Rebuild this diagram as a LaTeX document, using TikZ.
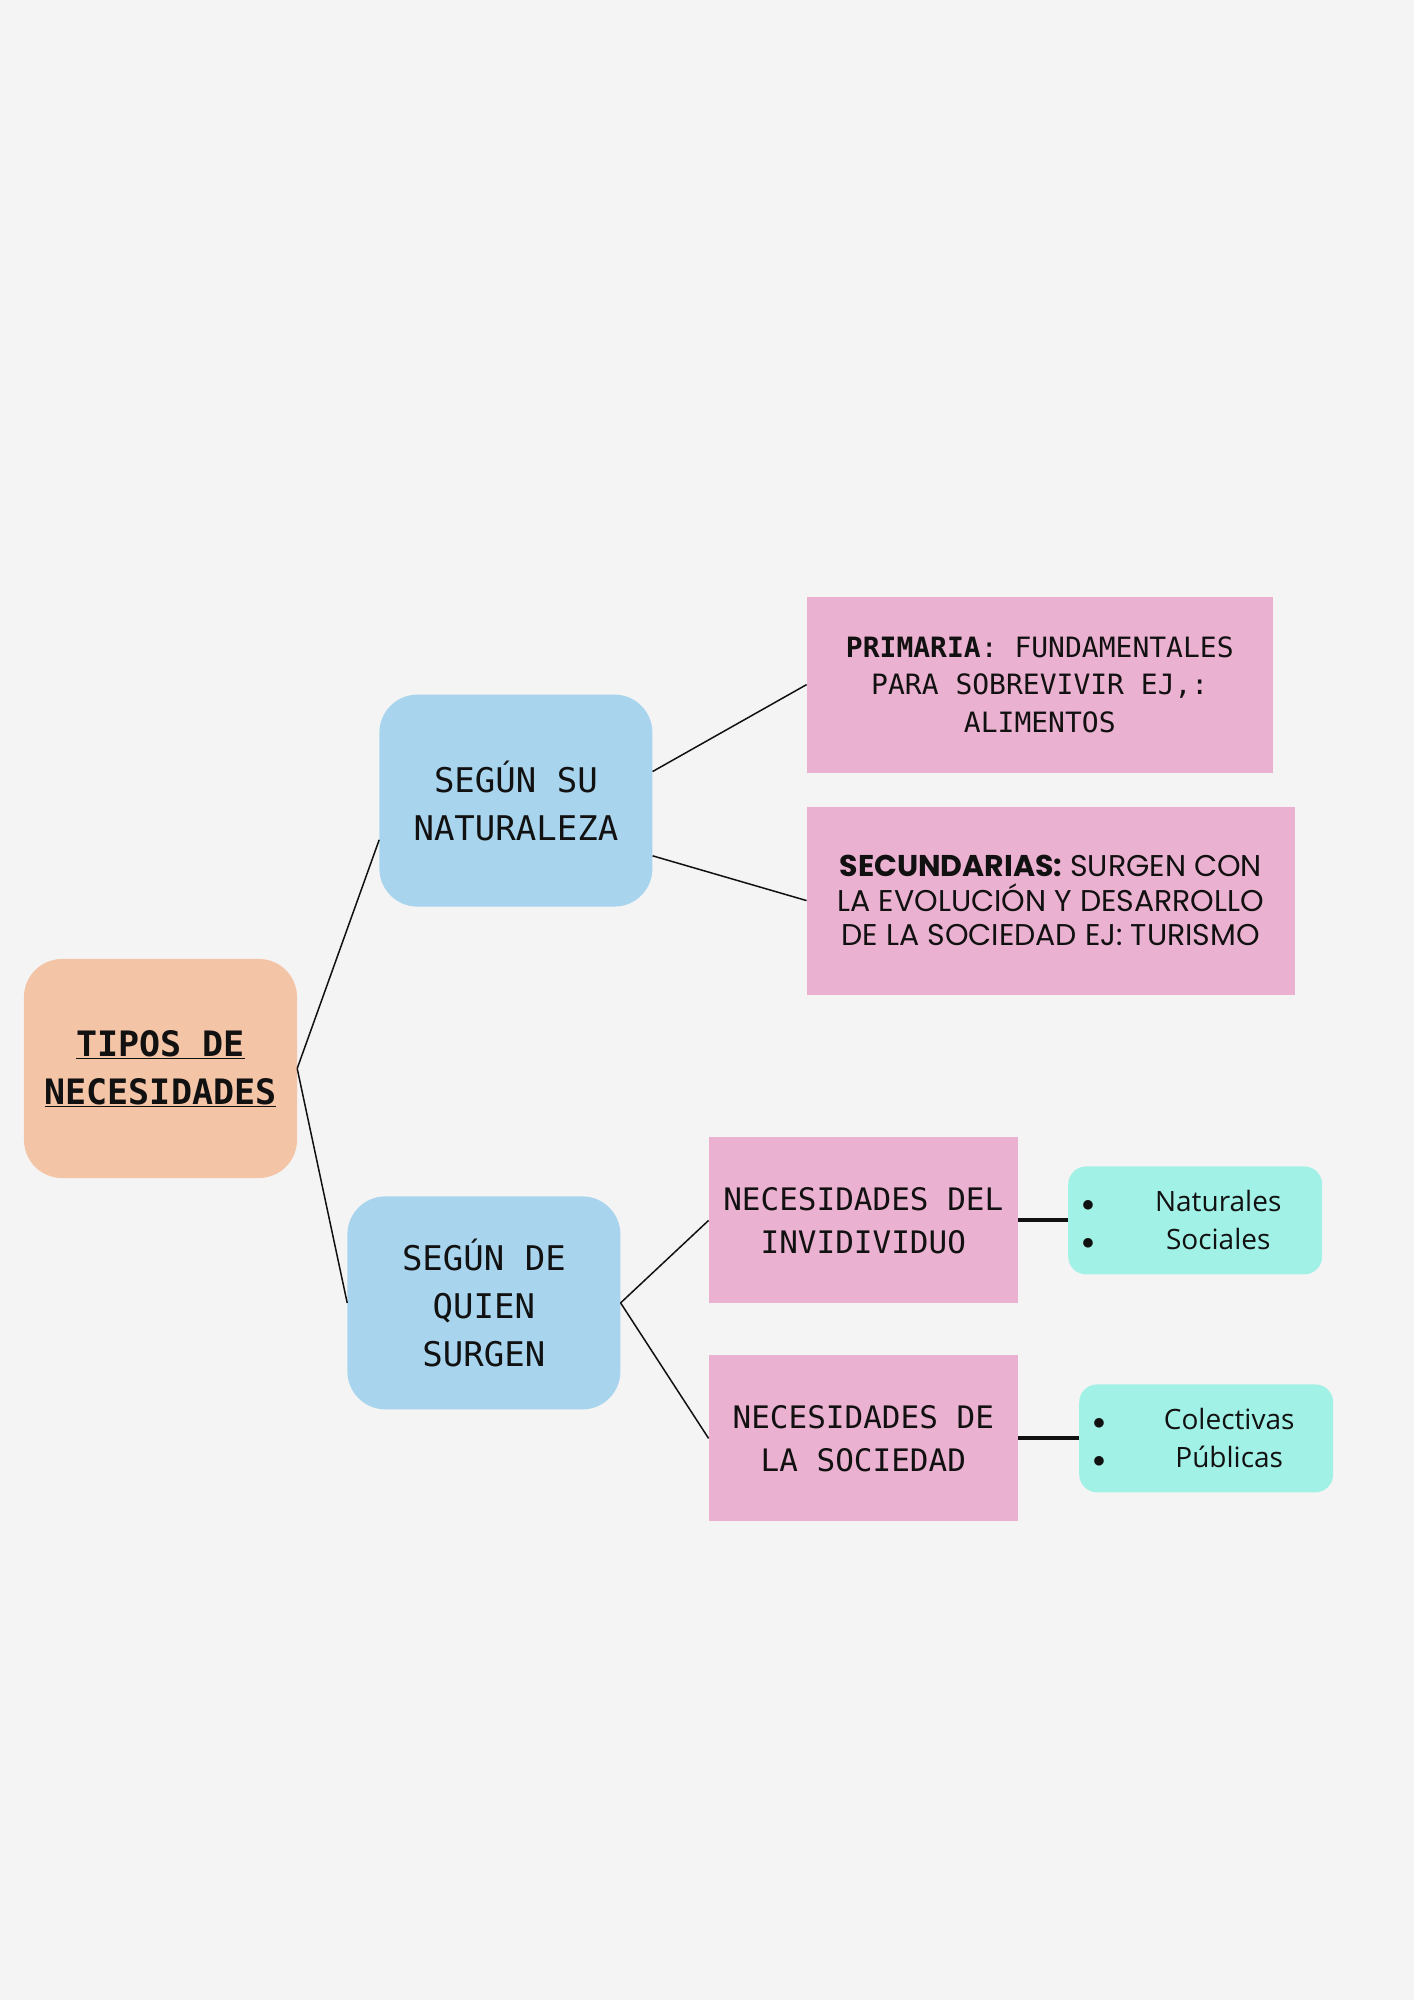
\documentclass[tikz,border=0pt]{standalone}
\usepackage{fontspec}
\setmainfont{Open Sans}
\setmonofont{DejaVu Sans Mono}
\newfontfamily\geofont{Poppins}
\usetikzlibrary{positioning}
\definecolor{paper}{HTML}{F4F4F4}
\definecolor{peach}{HTML}{F4C4A7}
\definecolor{sky}{HTML}{A8D4ED}
\definecolor{rose}{HTML}{EBB1D0}
\definecolor{mint}{HTML}{A2F1E7}
\definecolor{ink}{HTML}{111111}
\tikzset{
  rootbox/.style={fill=peach, rounded corners=38pt, minimum width=273pt,
                  minimum height=219pt, inner sep=0pt, align=center, text=ink,
                  font=\ttfamily\bfseries\fontsize{35}{48}\selectfont},
  catbox/.style={fill=sky, rounded corners=38pt, minimum width=273pt,
                 inner sep=0pt, align=center, text=ink,
                 font=\ttfamily\fontsize{34}{48}\selectfont},
  typebox/.style={fill=rose, inner sep=0pt, align=center, text=ink},
  listbox/.style={fill=mint, rounded corners=18pt, minimum width=254pt,
                  minimum height=108pt, inner sep=0pt, text width=254pt,
                  align=left, text=ink, font=\fontsize{28}{38}\selectfont},
  link/.style={draw=ink, line width=1.5pt},
  boldlink/.style={draw=ink, line width=4pt},
}
\newcommand{\bulitem}[1]{\makebox[40pt]{$\bullet$}\hspace{20pt}\makebox[180pt]{#1}}

\begin{document}
\begin{tikzpicture}
  \fill[paper] (-160.5pt,1068.5pt) rectangle (1253.5pt,-931.5pt);
  \node[rootbox] (tipos) {\underline{TIPOS DE}\\\underline{NECESIDADES}};
  \node[catbox, minimum height=212pt, above right=52pt and 82pt of tipos] (natur)
    {SEGÚN SU\\NATURALEZA};
  \node[catbox, minimum height=213pt, below right=18pt and 50pt of tipos] (quien)
    {SEGÚN DE\\QUIEN\\SURGEN};
  \node[typebox, minimum width=466pt, minimum height=176pt, right=154pt of natur,
        yshift=116pt, font=\ttfamily\fontsize{28}{37.5}\selectfont] (prim)
    {\textbf{PRIMARIA}: FUNDAMENTALES\\PARA SOBREVIVIR EJ,:\\ALIMENTOS};
  \node[typebox, minimum width=488pt, minimum height=188pt, right=154pt of natur,
        yshift=-100pt, font=\geofont\fontsize{30}{34.5}\selectfont] (secund)
    {\textbf{SECUNDARIAS:} SURGEN CON\\LA EVOLUCIÓN Y DESARROLLO\\DE LA SOCIEDAD EJ: TURISMO};
  \node[typebox, minimum width=309pt, minimum height=166pt, right=88pt of quien,
        yshift=82.5pt, font=\ttfamily\fontsize{31}{43}\selectfont] (indiv)
    {NECESIDADES DEL\\INVIDIVIDUO};
  \node[typebox, minimum width=309pt, minimum height=166pt, right=88pt of quien,
        yshift=-135.5pt, font=\ttfamily\fontsize{31}{43}\selectfont] (socied)
    {NECESIDADES DE\\LA SOCIEDAD};
  \node[listbox, right=50pt of indiv] (natus)
    {\noindent\bulitem{Naturales}\\\bulitem{Sociales}};
  \node[listbox, right=61pt of socied] (colect)
    {\noindent\bulitem{Colectivas}\\\bulitem{Públicas}};
  % ramas
  \draw[link] (tipos.east) -- (natur.196);
  \draw[link] (tipos.east) -- (quien.west);
  \draw[link] (natur.12) -- (prim.west);
  \draw[link] (natur.-22) -- (secund.west);
  \draw[link] (quien.east) -- (indiv.west);
  \draw[link] (quien.east) -- (socied.west);
  \draw[boldlink] (indiv.east) -- (natus.west);
  \draw[boldlink] (socied.east) -- (colect.west);
\end{tikzpicture}
\end{document}
